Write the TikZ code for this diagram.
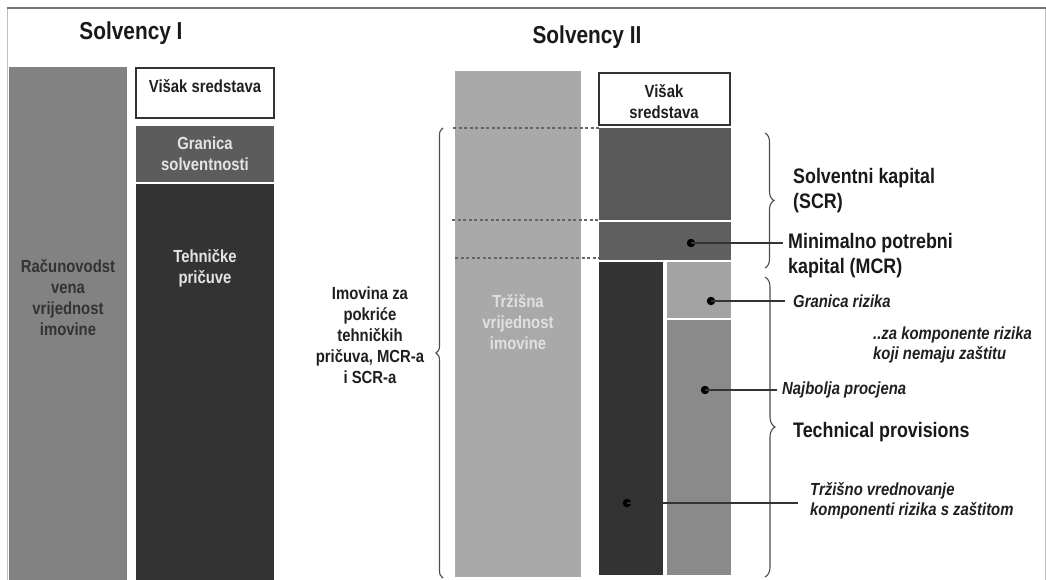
\documentclass[tikz,border=0pt]{standalone}
\usepackage{fontspec}
\setmainfont{Liberation Sans}[FakeStretch=0.85]
\usetikzlibrary{decorations.pathreplacing}
\definecolor{cRac}{HTML}{828282}
\definecolor{cGS}{HTML}{5C5C5C}
\definecolor{cDark}{HTML}{333333}
\definecolor{cTrz}{HTML}{A9A9A9}
\definecolor{cSCR}{HTML}{595959}
\definecolor{cMCR}{HTML}{5F5F5F}
\definecolor{cGR}{HTML}{A3A3A3}
\definecolor{cNP}{HTML}{8A8A8A}
\definecolor{cLightTxt}{HTML}{E4E4E4}
\definecolor{cDash}{HTML}{666666}
\begin{document}
\begin{tikzpicture}[x=1pt,y=-1pt,
  blk/.style={inner sep=0pt,outer sep=0pt,anchor=north west,draw=none},
  whitebox/.style={blk,fill=white,draw=cDark,line width=1.4pt},
  ttl/.style={font=\fontsize{24.5}{28}\selectfont\bfseries,inner sep=0pt,text=black!90},
  txt/.style={font=\fontsize{17.5}{21}\selectfont\bfseries,align=center,inner sep=0pt,text=black!88},
  big/.style={font=\fontsize{21}{25}\selectfont\bfseries,align=left,inner sep=0pt,anchor=west,text=black!90},
  itl/.style={font=\fontsize{17.5}{20.5}\selectfont\bfseries\itshape,align=left,inner sep=0pt,anchor=west,text=black!88},
  dashln/.style={cDash,line width=1.3pt,dash pattern=on 3pt off 2.5pt},
  conn/.style={cDark,line width=1.3pt},
  dot/.style={circle,fill=black,inner sep=0pt,minimum size=8.5pt},
  brc/.style={decorate,line width=1.1pt,draw=black!70}
]
\useasboundingbox (0,0) rectangle (1046,580);
% frame
\draw[line width=0.8pt,color=black!25] (7,9) -- (7,580);
\draw[line width=0.8pt,color=black!25] (1045,9) -- (1045,580);
\draw[line width=2pt,color=black!55] (7,8) -- (1046,8);

% titles
\node[ttl] (t1) at (131,33) {Solvency I};
\node[ttl] (t2) at (587,37) {Solvency II};

% Solvency I
\node[blk,fill=cRac,minimum width=118pt,minimum height=513pt] (rac) at (9,67) {};
\node[whitebox,minimum width=138pt,minimum height=50pt] (vis1) at (136,68) {};
\node[blk,fill=cGS,minimum width=138pt,minimum height=56pt] (gs) at (136,126) {};
\node[blk,fill=cDark,minimum width=138pt,minimum height=396pt] (teh) at (136,184) {};
\node[txt,text=black!80] (racT) at (68,298) {Računovodst\\vena\\vrijednost\\imovine};
\node[txt] (vis1T) at (205,86) {Višak sredstava};
\node[txt,text=cLightTxt] (gsT) at (205,154) {Granica\\solventnosti};
\node[txt,text=cLightTxt] (tehT) at (205,268) {Tehničke\\pričuve};

% Solvency II
\node[blk,fill=cTrz,minimum width=126pt,minimum height=506pt] (trz) at (455,71) {};
\node[whitebox,minimum width=131pt,minimum height=52pt] (vis2) at (599,73) {};
\node[blk,fill=cSCR,minimum width=132pt,minimum height=92pt] (scr) at (599,128) {};
\node[blk,fill=cMCR,minimum width=132pt,minimum height=38pt] (mcr) at (599,222) {};
\node[blk,fill=cDark,minimum width=64pt,minimum height=313pt] (dk) at (599,262) {};
\node[blk,fill=cGR,minimum width=64pt,minimum height=56pt] (gr) at (667,262) {};
\node[blk,fill=cNP,minimum width=64pt,minimum height=255pt] (np) at (667,320) {};
\node[txt] (vis2T) at (664,102) {Višak\\sredstava};
\node[txt,text=black!12] (trzT) at (518,322) {Tržišna\\vrijednost\\imovine};

% dashed guide lines
\coordinate (d1) at (453,128);
\coordinate (d2) at (452,220);
\coordinate (d3) at (455,258);
\draw[dashln] (d1) -- (d1 -| scr.west);
\draw[dashln] (d2) -- (d2 -| scr.west);
\draw[dashln] (d3) -- (d3 -| mcr.west);

% left brace + label
\coordinate (lbB) at (443,578);
\coordinate (lbT) at (443,128);
\draw[brc,decoration={brace,amplitude=7pt}] (lbB) -- (lbT);
\node[txt] (imT) at (370,335) {Imovina za\\pokriće\\tehničkih\\pričuva, MCR-a\\i SCR-a};

% right braces
\coordinate (rb1T) at (765,133);
\coordinate (rb1B) at (765,268);
\coordinate (rb2T) at (765,277);
\coordinate (rb2B) at (765,577);
\draw[brc,decoration={brace,amplitude=9pt}] (rb1T) -- (rb1B);
\draw[brc,decoration={brace,amplitude=10pt}] (rb2T) -- (rb2B);

% labels
\node[big] (scrL) at (793,191) {Solventni kapital\\(SCR)};
\node[big] (mcrL) at (788,256) {Minimalno potrebni\\kapital (MCR)};
\node[itl] (grL) at (793,301) {Granica rizika};
\node[itl] (zaL) at (873,345) {..za komponente rizika\\koji nemaju zaštitu};
\node[itl] (npL) at (782,390) {Najbolja procjena};
\node[big] (tpL) at (793,432) {Technical provisions};
\node[itl] (tvL) at (810,501) {Tržišno vrednovanje\\komponenti rizika s zaštitom};

% dots and connectors
\node[dot] (mcrD) at (691,243) {};
\node[dot] (grD) at (711,301) {};
\node[dot] (npD) at (705,390) {};
\node[dot] (tvD) at (627,503) {};
\draw[conn] (mcrD.center) -- ([xshift=-5pt]mcrD -| mcrL.west);
\draw[conn] (grD.center) -- ([xshift=-8pt]grL.west);
\draw[conn] (npD.center) -- ([xshift=-5pt]npL.west);
\draw[conn] (tvD.center) -- ([xshift=-12pt]tvL.west |- tvD);
\end{tikzpicture}
\end{document}
